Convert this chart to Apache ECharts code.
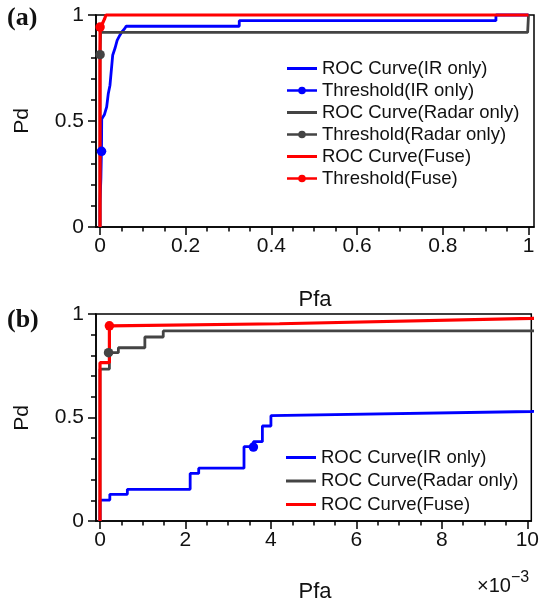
<!DOCTYPE html>
<html>
<head>
<meta charset="utf-8">
<script src="https://cdn.jsdelivr.net/npm/echarts@6/dist/echarts.min.js"></script>
<style>html,body{margin:0;padding:0;background:#fff}#c{width:542px;height:605px}</style>
</head>
<body>
<div id="c"></div>
<script>
// ---- data (Pfa in real units) ----
var irX = [0, 0, 0.00023, 0.00023, 0.00064, 0.00064, 0.00211, 0.00211, 0.00231, 0.00231, 0.00337, 0.00337, 0.00359, 0.00359, 0.0038, 0.0038, 0.0040, 0.0040, 0.0101, 0.0156, 0.0194, 0.0233, 0.0296, 0.035, 0.040, 0.0467, 0.051, 0.058, 0.061, 0.325, 0.325, 0.924, 0.924, 1.0];
var irY = [0, 0.101, 0.101, 0.129, 0.129, 0.153, 0.153, 0.23, 0.23, 0.255, 0.255, 0.359, 0.359, 0.383, 0.383, 0.459, 0.459, 0.509, 0.529, 0.567, 0.63, 0.669, 0.81, 0.843, 0.88, 0.906, 0.92, 0.937, 0.947, 0.947, 0.973, 0.973, 1.0, 1.0];
var radarX = [0, 0, 0.00022, 0.00022, 0.00043, 0.00043, 0.00105, 0.00105, 0.00148, 0.00148, 0.998, 1.0];
var radarY = [0, 0.734, 0.734, 0.813, 0.813, 0.837, 0.837, 0.889, 0.889, 0.918, 0.918, 1.0];
var fuseX = [0, 0, 0.00022, 0.00022, 0.0042, 0.0101, 0.014, 1.0];
var fuseY = [0, 0.765, 0.765, 0.943, 0.953, 0.979, 1.0, 1.0];
var thrIR = [0.00359, 0.357];
var thrRadar = [0.0002, 0.813];
var thrFuse = [0.00022, 0.943];
var ticksA = [0, 0.2, 0.4, 0.6, 0.8, 1];
var minorA = [0.05,0.1,0.15,0.25,0.3,0.35,0.45,0.5,0.55,0.65,0.7,0.75,0.85,0.9,0.95];
var ticksB = [0, 0.002, 0.004, 0.006, 0.008, 0.01];
var minorB = [0.0005,0.001,0.0015,0.0025,0.003,0.0035,0.0045,0.005,0.0055,0.0065,0.007,0.0075,0.0085,0.009,0.0095];
var names = ['ROC Curve(IR only)','Threshold(IR only)','ROC Curve(Radar only)','Threshold(Radar only)','ROC Curve(Fuse)','Threshold(Fuse)'];

function zip(xs, ys){ return xs.map(function(x,i){ return [x, ys[i]]; }); }

var FONT = 'Liberation Sans, Arial, sans-serif';
var BLUE = '#0000ff', GREY = '#444444', RED = '#ff0000';
var LINE_ICON = 'path://M0,0 L30,0 L30,3 L0,3 Z';
var THR_ICON = 'path://M0,4.2 L30,4.2 L30,6.8 L0,6.8 Z M11.2,5.5 A3.8,3.8 0 1 1 18.8,5.5 A3.8,3.8 0 1 1 11.2,5.5 Z';

function majorX(grid, min, max, ticks, fmt){
  return {
    type:'value', gridIndex:grid, min:min, max:max, position:'bottom',
    axisLine:{show:true, onZero:false, lineStyle:{color:'#000', width:1.5}},
    axisTick:{show:true, customValues:ticks, length:8, lineStyle:{color:'#000', width:1.5}},
    axisLabel:{show:true, customValues:ticks, margin:9, color:'#111', fontSize:21, fontFamily:FONT, formatter:fmt},
    splitLine:{show:false}
  };
}
function minorX(grid, min, max, ticks){
  return {
    type:'value', gridIndex:grid, min:min, max:max, position:'bottom', offset:0,
    axisLine:{show:false},
    axisTick:{show:true, customValues:ticks, length:4.5, lineStyle:{color:'#000', width:1.5}},
    axisLabel:{show:false}, splitLine:{show:false}
  };
}
function yAx(grid){
  return {
    type:'value', gridIndex:grid, min:0, max:1, interval:0.5,
    axisLine:{show:true, onZero:false, lineStyle:{color:'#000', width:1.5}},
    axisTick:{show:true, length:8, lineStyle:{color:'#000', width:1.5}},
    minorTick:{show:true, splitNumber:5, length:5, lineStyle:{color:'#000', width:1.5}},
    axisLabel:{color:'#111', fontSize:21, fontFamily:FONT, margin:12},
    splitLine:{show:false}, minorSplitLine:{show:false}
  };
}
function curve(name, data, color, w, xi, yi, clip){
  return {type:'line', name:name, data:data, xAxisIndex:xi, yAxisIndex:yi, symbol:'none',
    lineStyle:{color:color, width:w}, itemStyle:{color:color}, clip:clip, animation:false, z:2};
}
function thr(name, pt, color, xi, yi){
  return {type:'line', name:name, data:[pt], xAxisIndex:xi, yAxisIndex:yi, symbol:'circle', symbolSize:9.5,
    showSymbol:true, lineStyle:{color:color, width:2.8}, itemStyle:{color:color, borderWidth:0},
    animation:false, z:5};
}

var fmtA = function(v){ return String(Math.round(v*10)/10); };
var fmtB = function(v){ return String(Math.round(v*1000)); };

var legendText = {fontSize:18.5, fontFamily:FONT, color:'#111', lineHeight:19};

var option = {
  backgroundColor:'#fff',
  animation:false,
  grid:[
    {left:96, top:15, width:438, height:212, show:true, borderColor:'#000', borderWidth:1.5, backgroundColor:'transparent'},
    {left:96, top:314, width:436, height:207, show:true, borderColor:'#000', borderWidth:1.5, backgroundColor:'transparent'}
  ],
  xAxis:[
    majorX(0, -0.00933, 1.01284, ticksA, fmtA),
    minorX(0, -0.00933, 1.01284, minorA),
    majorX(1, -0.0000935, 0.0100935, ticksB, fmtB),
    minorX(1, -0.0000935, 0.0100935, minorB)
  ],
  yAxis:[yAx(0), yAx(1)],
  legend:[
    {data:names.map(function(n, i){return {name:n, icon:(i % 2 === 0 ? LINE_ICON : THR_ICON)};}),
     orient:'vertical', left:287, top:59, padding:0, itemWidth:30, itemHeight:14, itemGap:3,
     selectedMode:false, textStyle:legendText},
    {data:[{name:names[0], icon:LINE_ICON}, {name:names[2], icon:LINE_ICON}, {name:names[4], icon:LINE_ICON}],
     orient:'vertical', left:286, top:448, padding:0, itemWidth:30, itemHeight:14, itemGap:4.5,
     selectedMode:false, textStyle:legendText}
  ],
  series:[
    curve(names[0], zip(irX, irY), BLUE, 2.8, 0, 0, false),
    curve(names[2], zip(radarX, radarY), GREY, 2.8, 0, 0, false),
    curve(names[4], zip(fuseX, fuseY), RED, 3.2, 0, 0, false),
    thr(names[1], thrIR, BLUE, 0, 0),
    thr(names[3], thrRadar, GREY, 0, 0),
    thr(names[5], thrFuse, RED, 0, 0),
    curve(names[0], zip(irX, irY), BLUE, 2.8, 2, 1, true),
    curve(names[2], zip(radarX, radarY), GREY, 2.8, 2, 1, true),
    curve(names[4], zip(fuseX, fuseY), RED, 3.2, 2, 1, true),
    thr(names[1], thrIR, BLUE, 2, 1),
    thr(names[3], thrRadar, GREY, 2, 1),
    thr(names[5], thrFuse, RED, 2, 1)
  ],
  graphic:[
    {type:'text', left:7, top:5, style:{text:'(a)', font:'bold 26px "Liberation Serif", "Times New Roman", serif', fill:'#111'}},
    {type:'text', left:7, top:307, style:{text:'(b)', font:'bold 26px "Liberation Serif", "Times New Roman", serif', fill:'#111'}},
    {type:'text', x:22, y:121, rotation:Math.PI/2, style:{text:'Pd', font:'21px ' + FONT, fill:'#111', align:'center', verticalAlign:'middle'}},
    {type:'text', x:22, y:418, rotation:Math.PI/2, style:{text:'Pd', font:'21px ' + FONT, fill:'#111', align:'center', verticalAlign:'middle'}},
    {type:'text', x:315, y:300, style:{text:'Pfa', font:'22px ' + FONT, fill:'#111', align:'center', verticalAlign:'middle'}},
    {type:'text', x:315, y:592, style:{text:'Pfa', font:'22px ' + FONT, fill:'#111', align:'center', verticalAlign:'middle'}},
    {type:'text', x:477, y:570, style:{text:'{a|×10}{b|−3}', fill:'#111',
      rich:{a:{fontSize:20, fontFamily:FONT, verticalAlign:'bottom', padding:[6,0,0,0]}, b:{fontSize:16, fontFamily:FONT, verticalAlign:'top', padding:[0,0,6,0]}}}}
  ]
};
var chart = echarts.init(document.getElementById('c'), null, {renderer:'canvas'});
chart.setOption(option);
</script>
</body>
</html>
